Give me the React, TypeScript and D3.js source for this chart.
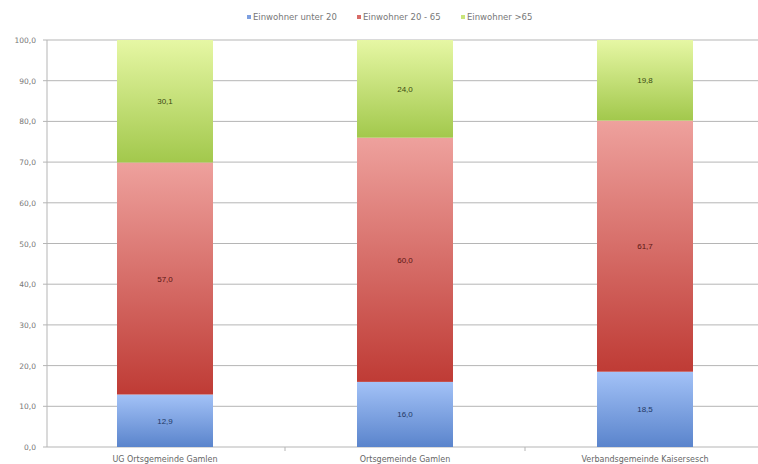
import React from "react";
import * as d3 from "d3";

const categories = ["UG Ortsgemeinde Gamlen", "Ortsgemeinde Gamlen", "Verbandsgemeinde Kaisersesch"];
const seriesNames = ["Einwohner unter 20", "Einwohner 20 - 65", "Einwohner >65"];
const under20 = [12.9, 16.0, 18.5];
const mid20to65 = [57.0, 60.0, 61.7];
const over65 = [30.1, 24.0, 19.8];
const yTicks = [0, 10, 20, 30, 40, 50, 60, 70, 80, 90, 100];

const W = 758, H = 464;
const fmt = (v: number) => v.toFixed(1).replace(".", ",");

const grads = [
  { id: "gBlue", top: "#a3c2f7", bottom: "#5a84cc", text: "#1f3864", legend: "#7d9fe0" },
  { id: "gRed", top: "#eea19d", bottom: "#bf3b35", text: "#5a1512", legend: "#d86b67" },
  { id: "gGreen", top: "#e6f7a4", bottom: "#a2c84c", text: "#3a4a10", legend: "#c9e57a" },
];

const sans = "'DejaVu Sans', Verdana, sans-serif";

export default function App() {
  const x = d3.scaleBand<string>().domain(categories).range([45, 765]).paddingInner(0.6).paddingOuter(0.3);
  const y = d3.scaleLinear().domain([0, 100]).range([447, 40]);
  const series = [under20, mid20to65, over65];
  const data = categories.map((c, i) => ({ cat: c, u: under20[i], m: mid20to65[i], o: over65[i] }));
  const stack = d3.stack<any>().keys(["u", "m", "o"])(data);
  const step = x.step();
  const legendX = [247, 357, 461];

  return (
    <svg width={W} height={H} style={{ position: "absolute", left: 0, top: 0, background: "#fff" }}
      fontFamily="'Liberation Sans', Arial, sans-serif">
      <defs>
        {grads.map((g) => (
          <linearGradient key={g.id} id={g.id} x1="0" y1="0" x2="0" y2="1">
            <stop offset="0%" stopColor={g.top} />
            <stop offset="100%" stopColor={g.bottom} />
          </linearGradient>
        ))}
      </defs>
      {yTicks.map((t) => (
        <g key={t}>
          <line x1={43} x2={W} y1={y(t)} y2={y(t)} stroke="#b5b5b5" strokeWidth={1} />
          <text x={36} y={y(t) + 3} textAnchor="end" fontSize={7.5} fontFamily={sans} fill="#777">{fmt(t)}</text>
        </g>
      ))}
      <line x1={47} x2={47} y1={y(100)} y2={y(0)} stroke="#b5b5b5" strokeWidth={1} />
      {categories.slice(1).map((c) => (
        <line key={c} x1={(x(c) as number) - (step - x.bandwidth()) / 2} x2={(x(c) as number) - (step - x.bandwidth()) / 2}
          y1={y(0)} y2={y(0) + 4} stroke="#b5b5b5" />
      ))}
      {stack.map((s, si) => (
        <g key={si}>
          {s.map((d, i) => {
            const cat = categories[i];
            const bx = x(cat) as number;
            const y0 = y(d[0]), y1 = y(d[1]);
            return (
              <g key={cat}>
                <rect x={bx} y={y1} width={x.bandwidth()} height={y0 - y1} fill={`url(#${grads[si].id})`} />
                <text x={bx + x.bandwidth() / 2} y={(y0 + y1) / 2 + 3} textAnchor="middle" fontSize={8}
                  fill={grads[si].text}>{fmt(series[si][i])}</text>
              </g>
            );
          })}
        </g>
      ))}
      {categories.map((c) => (
        <text key={c} x={(x(c) as number) + x.bandwidth() / 2} y={462} textAnchor="middle" fontSize={8}
          fontFamily={sans} fill="#666">{c}</text>
      ))}
      {seriesNames.map((n, i) => (
        <g key={n}>
          <rect x={legendX[i]} y={15} width={4} height={4} fill={grads[i].legend} />
          <text x={legendX[i] + 6} y={19.5} fontSize={8.5} fontFamily={sans} fill="#777">{n}</text>
        </g>
      ))}
    </svg>
  );
}
